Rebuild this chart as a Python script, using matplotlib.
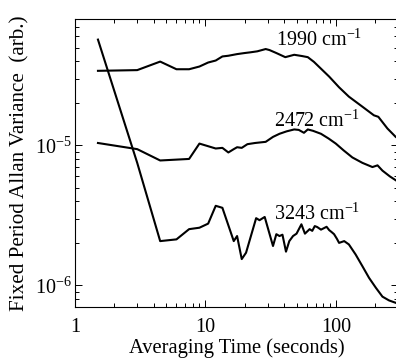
import numpy as np
import matplotlib
matplotlib.use("Agg")
import matplotlib.pyplot as plt
from matplotlib import ticker

# -----------------------------
# DATA
# -----------------------------
t_1990 = [1.5, 3.0, 4.5, 6.0, 7.5, 9.0, 10.5, 12, 13.5, 15, 17.5, 20, 22, 25, 29,
          31, 35, 41, 48, 55, 61, 68, 74, 89, 106, 126, 160, 196, 212, 249, 288, 300]
v_1990 = [3.41e-5, 3.45e-5, 3.97e-5, 3.50e-5, 3.50e-5, 3.66e-5, 3.91e-5, 4.04e-5,
          4.32e-5, 4.37e-5, 4.49e-5, 4.57e-5, 4.62e-5, 4.70e-5, 4.88e-5, 4.80e-5,
          4.57e-5, 4.27e-5, 4.44e-5, 4.35e-5, 4.27e-5, 3.95e-5, 3.66e-5, 3.10e-5,
          2.60e-5, 2.23e-5, 1.89e-5, 1.64e-5, 1.60e-5, 1.32e-5, 1.15e-5, 1.12e-5]

t_2472 = [1.5, 3.0, 4.5, 7.5, 9.0, 12, 13.5, 15, 16.5, 17.5, 19, 21, 24, 29, 33,
          37, 42, 48, 52, 57, 61, 67, 77, 88, 100, 115, 134, 160, 191, 209, 228,
          260, 300]
v_2472 = [1.04e-5, 9.4e-6, 7.8e-6, 8.0e-6, 1.03e-5, 9.5e-6, 9.6e-6, 8.9e-6,
          9.4e-6, 9.7e-6, 9.6e-6, 1.02e-5, 1.04e-5, 1.06e-5, 1.15e-5, 1.21e-5,
          1.26e-5, 1.30e-5, 1.29e-5, 1.23e-5, 1.30e-5, 1.27e-5, 1.21e-5, 1.12e-5,
          1.03e-5, 9.2e-6, 8.2e-6, 7.5e-6, 7.0e-6, 7.2e-6, 6.6e-6, 6.0e-6, 5.5e-6]

t_3243 = [1.5, 3.0, 4.5, 6.0, 7.5, 9.0, 10.5, 12, 13.5, 16.5, 17.5, 19, 20.5, 24.5,
          26, 28.5, 33, 35, 37, 39, 41.5, 44, 47, 50, 54.5, 58, 63, 66, 69, 72, 77,
          81, 85, 89, 93, 97, 102, 106, 116, 126, 142, 160, 180, 203, 228, 256,
          288, 300]
v_3243 = [5.7e-5, 7.5e-6, 2.07e-6, 2.13e-6, 2.52e-6, 2.58e-6, 2.76e-6, 3.70e-6,
          3.58e-6, 2.07e-6, 2.25e-6, 1.54e-6, 1.71e-6, 3.02e-6, 2.92e-6, 3.08e-6,
          1.91e-6, 2.32e-6, 2.25e-6, 2.30e-6, 1.74e-6, 2.07e-6, 2.25e-6, 2.34e-6,
          2.73e-6, 2.34e-6, 2.52e-6, 2.45e-6, 2.65e-6, 2.61e-6, 2.50e-6, 2.56e-6,
          2.62e-6, 2.48e-6, 2.40e-6, 2.32e-6, 2.15e-6, 2.01e-6, 2.07e-6, 1.96e-6,
          1.66e-6, 1.37e-6, 1.13e-6, 9.6e-7, 8.3e-7, 7.8e-7, 7.5e-7, 7.4e-7]

labels = [r"1990 cm$^{-1}$", r"2472 cm$^{-1}$", r"3243 cm$^{-1}$"]
label_pos = [(34.7, 5.6e-5), (33.5, 1.5e-5), (33.5, 3.21e-6)]

# -----------------------------
# STYLE
# -----------------------------
plt.rcParams["font.family"] = ["Liberation Serif", "DejaVu Serif"]
plt.rcParams["mathtext.fontset"] = "custom"
plt.rcParams["mathtext.rm"] = "Liberation Serif"
plt.rcParams["mathtext.it"] = "Liberation Serif:italic"
plt.rcParams["mathtext.bf"] = "Liberation Serif:bold"
plt.rcParams["font.size"] = 14.5

fig = plt.figure(figsize=(3.96, 3.58), dpi=100)
ax = fig.add_axes([75 / 396, 51 / 358, 323 / 396, 288 / 358])

for t, v in [(t_1990, v_1990), (t_2472, v_2472), (t_3243, v_3243)]:
    ax.plot(t, v, color="black", lw=1.5)

for txt, (x, y) in zip(labels, label_pos):
    ax.text(x, y, txt, ha="left", va="center", fontsize=14.5)

ax.set_xscale("log")
ax.set_yscale("log")
ax.set_xlim(1, 300)
ax.set_ylim(7e-7, 8e-5)

ax.xaxis.set_major_formatter(ticker.FuncFormatter(lambda v, p: f"{v:g}"))
ax.xaxis.set_minor_formatter(ticker.NullFormatter())
ax.yaxis.set_major_formatter(ticker.LogFormatterSciNotation())
ax.yaxis.set_minor_formatter(ticker.NullFormatter())

ax.tick_params(which="both", direction="in", top=True, right=True, width=0.7)
ax.tick_params(which="major", length=5)
ax.tick_params(which="minor", length=3)
ax.tick_params(axis="x", which="major", pad=8)
ax.tick_params(axis="y", which="major", pad=2)
for s in ax.spines.values():
    s.set_linewidth(0.8)

ax.set_xlabel("Averaging Time (seconds)", fontsize=14.8, labelpad=1)
ax.set_ylabel("Fixed Period Allan Variance  (arb.)", fontsize=15.2, labelpad=4)

fig.savefig("out.png", dpi=100)
